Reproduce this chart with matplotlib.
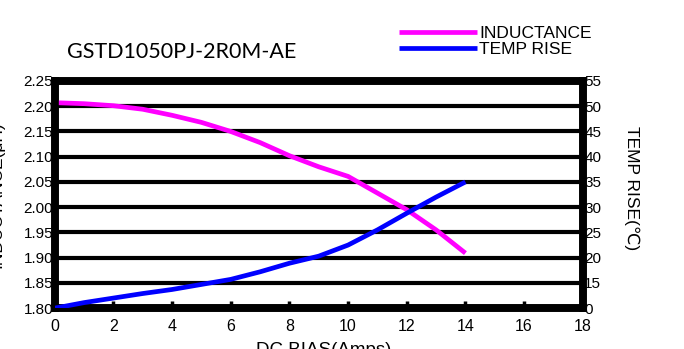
import numpy as np
import matplotlib
matplotlib.use("Agg")
import matplotlib.pyplot as plt

# DC bias (A)
dc_bias = [0, 1, 2, 3, 4, 5, 6, 7, 8, 9, 10, 11, 12, 13, 14]
# inductance (uH)
inductance = [2.207, 2.205, 2.201, 2.194, 2.182, 2.168, 2.150, 2.128, 2.102,
              2.080, 2.061, 2.028, 1.995, 1.955, 1.909]
# temp rise (C)
temp_rise = [0, 3.3, 6.0, 8.7, 11.1, 14.1, 15.7, 17.2, 18.9, 20.3, 22.5,
             25.5, 28.8, 32.0, 35.0]

x_ticks = [0, 2, 4, 6, 8, 10, 12, 14, 16, 18]
l_ticks = [1.80, 1.85, 1.90, 1.95, 2.00, 2.05, 2.10, 2.15, 2.20, 2.25]
r_ticks = [0, 15, 20, 25, 30, 35, 40, 45, 50, 55]

arial = ['Liberation Sans', 'DejaVu Sans']


# the right axis in the datasheet squeezes 0..15 into one grid step
def fwd(t):
    t = np.asarray(t, dtype=float)
    return np.where(t <= 15, 10 + t / 3.0, t)


def inv(p):
    p = np.asarray(p, dtype=float)
    return np.where(p <= 15, (p - 10) * 3.0, p)


fig = plt.figure(figsize=(6.84, 3.49), dpi=100)
ax = fig.add_axes([0.080, 0.117, 0.772, 0.651])
ax2 = ax.twinx()

l1, = ax.plot(dc_bias, inductance, color='#ff00ff', lw=3.4, zorder=5,
              solid_capstyle='butt')
l2, = ax2.plot(dc_bias, temp_rise, color='#0000ff', lw=3.4, zorder=5,
               solid_capstyle='butt')

ax.set_xlim(0, 18)
ax.set_ylim(1.80, 2.25)
ax.set_xticks(x_ticks)
ax.set_yticks(l_ticks)
ax.set_yticklabels(['%.2f' % v for v in l_ticks])
ax.grid(axis='y', color='black', lw=3.0)
ax.set_axisbelow(True)

ax2.set_yscale('function', functions=(fwd, inv))
ax2.set_ylim(0, 55)
ax2.set_yticks(r_ticks)
ax2.set_yticklabels([str(v) for v in r_ticks])

for a in (ax, ax2):
    for s in a.spines.values():
        s.set_linewidth(5.5)
        s.set_color('black')

ax.tick_params(axis='x', direction='in', length=5, width=2.5, pad=8,
               labelsize=11.5)
ax.tick_params(axis='y', length=0, pad=1, labelsize=11)
ax2.tick_params(axis='y', length=0, pad=1, labelsize=11)
for lab in ax.get_xticklabels() + ax.get_yticklabels() + ax2.get_yticklabels():
    lab.set_family(arial)

ax.set_xlabel('DC BIAS(Amps)', family=arial, fontsize=13.5, va='top')
ax.xaxis.set_label_coords(0.51, -0.148)
# only a sliver of the left label shows in the datasheet
ax.set_ylabel('INDUCTANCE(μH)', family=arial, fontsize=12.5)
ax.yaxis.set_label_coords(-0.096, 0.5)
ax2.set_ylabel('TEMP RISE(℃)', family=arial, fontsize=12.5, rotation=270,
               va='center', ha='center')
ax2.yaxis.set_label_coords(1.093, 0.53)

fig.text(0.098, 0.851, 'GSTD1050PJ-2R0M-AE', family=['Lato', 'DejaVu Sans'],
         fontsize=15.5, va='center', ha='left')

fig.legend([l1, l2], ['INDUCTANCE', 'TEMP RISE'], loc='center left',
           bbox_to_anchor=(0.571, 0.882), frameon=False, handlelength=4.5,
           handletextpad=0.1, labelspacing=0.05, borderpad=0,
           prop={'family': arial, 'size': 12.5})

fig.savefig('out.png', dpi=100)
